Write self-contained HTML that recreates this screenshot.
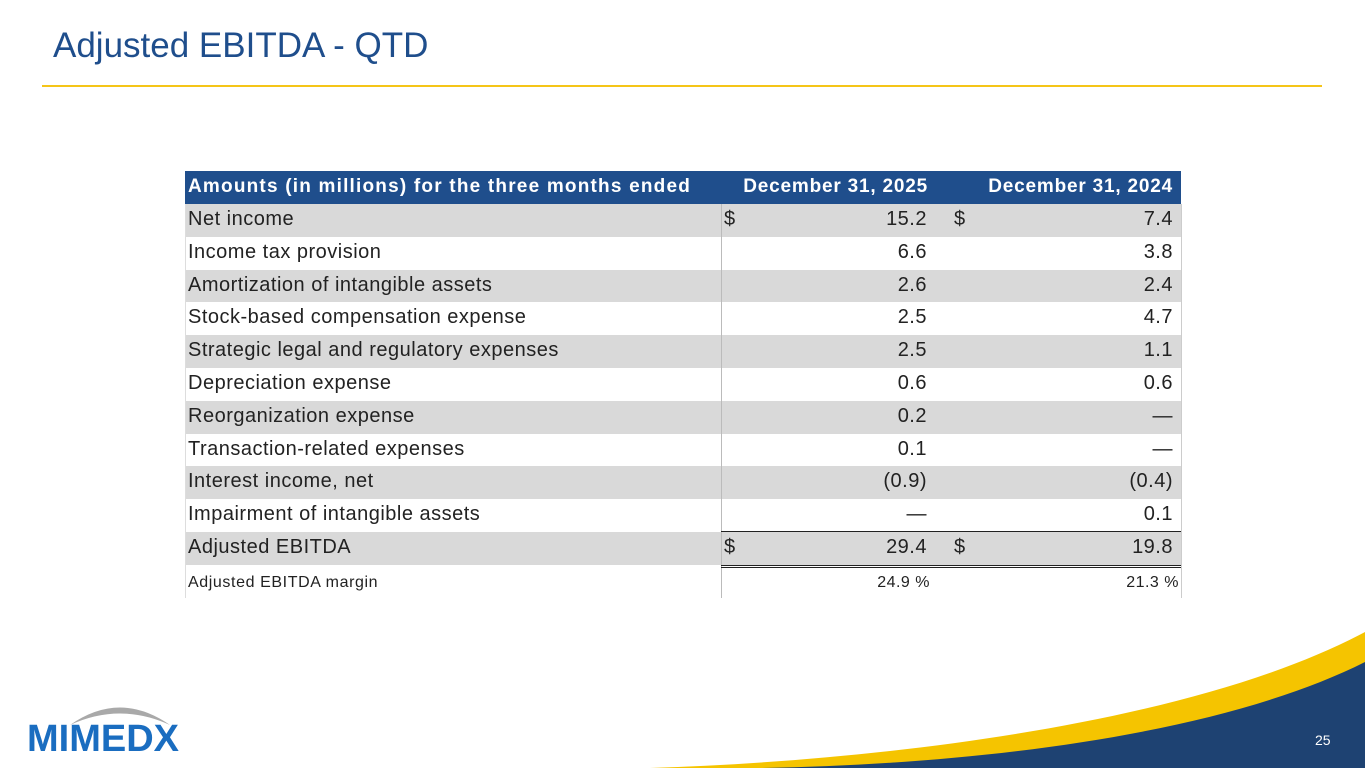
<!DOCTYPE html>
<html><head><meta charset="utf-8"><style>
body{margin:0;width:1365px;height:768px;background:#fff;position:relative;overflow:hidden;font-family:"Liberation Sans",sans-serif}
.a{position:absolute}
.t{position:absolute;white-space:nowrap;font-size:20px;letter-spacing:0.5px;color:#222}
</style></head><body>
<div class="a" style="left:53px;top:26px;font-size:35px;color:#1f4e8c">Adjusted EBITDA - QTD</div>
<div class="a" style="left:42px;top:85px;width:1280px;height:2px;background:#f5c518"></div>
<div id="tbl" class="a" style="left:0;top:0;width:1365px;height:768px"></div>
<svg class="a" style="left:0;top:0" width="1365" height="768">
<path d="M650 768 C900 760 1200 720 1365 632 L1365 768 Z" fill="#f5c400"/>
<path d="M760 768 C1000 764 1230 730 1365 662 L1365 768 Z" fill="#1e4272"/>
<path d="M70 725 Q120 690 170 725 Q120 702 70 725Z" fill="#a9a9a9"/>
</svg>
<div class="a" style="left:27px;top:718px;font-size:38px;font-weight:bold;color:#1a6dc0;letter-spacing:0px">MIMEDX</div>
<div class="a" style="left:1315px;top:732px;font-size:14px;color:#fff">25</div>
<script>
const labels=["Net income","Income tax provision","Amortization of intangible assets","Stock-based compensation expense","Strategic legal and regulatory expenses","Depreciation expense","Reorganization expense","Transaction-related expenses","Interest income, net","Impairment of intangible assets","Adjusted EBITDA"];
const col2025=["15.2","6.6","2.6","2.5","2.5","0.6","0.2","0.1","(0.9)","—","29.4"];
const col2024=["7.4","3.8","2.4","4.7","1.1","0.6","—","—","(0.4)","0.1","19.8"];
const margin2025="24.9", margin2024="21.3";
const T=document.getElementById('tbl');
function el(css,txt){const d=document.createElement('div');d.className='t';d.style.cssText=css;if(txt!==undefined)d.textContent=txt;T.appendChild(d);return d;}
const L=185,R=1181,C1=721,C2=950,top0=171,hh=33,rh=32.8;
const hdr=el(`left:${L}px;top:${top0}px;width:${R-L}px;height:${hh}px;background:#1f4e8c`);


const h1=el(`left:188px;top:${top0+5}px;color:#fff;font-weight:bold;font-size:19px;letter-spacing:1.2px`,"Amounts (in millions) for the three months ended");


const h2=el(`right:${1365-928}px;top:${top0+5}px;color:#fff;font-weight:bold;font-size:19px;letter-spacing:0.8px`,"December 31, 2025");


const h3=el(`right:${1365-1173}px;top:${top0+5}px;color:#fff;font-weight:bold;font-size:19px;letter-spacing:0.8px`,"December 31, 2024");


labels.forEach((lab,i)=>{
 const y=top0+hh+i*rh;
 if(i%2==0){const bg=el(`left:${L}px;top:${y}px;width:${R-L}px;height:${rh}px;background:#d9d9d9`);
  
  }
 const a=el(`left:188px;top:${y+4}px`,lab);
 
 
 const b=el(`right:${1365-927}px;top:${y+4}px`,col2025[i]);
 
 
 const c=el(`right:${1365-1173}px;top:${y+4}px`,col2024[i]);
 
 
 if(i==0||i==labels.length-1){
  const d1=el(`left:724px;top:${y+4}px`,"$");
  const d2=el(`left:954px;top:${y+4}px`,"$");
 }
});
const bodyTop=top0+hh, n=labels.length;
const my=bodyTop+n*rh;
const v1=el(`left:${C1}px;top:${bodyTop}px;width:1px;height:${n*rh+33}px;background:#bbb`);

const v2=el(`left:${R}px;top:${bodyTop}px;width:1px;height:${n*rh+33}px;background:#ccc`);

const v0=el(`left:${L}px;top:${bodyTop}px;width:1px;height:${n*rh+33}px;background:#ddd`);

const ul=el(`left:${C1}px;top:${bodyTop+(n-1)*rh-1}px;width:${R-C1}px;height:1px;background:#222`);

const dl=el(`left:${C1}px;top:${my}px;width:${R-C1}px;height:3px;border-top:1px solid #222;border-bottom:1px solid #222;box-sizing:border-box`);

const m0=el(`left:188px;top:${my+9}px;font-size:16px;letter-spacing:0.6px`,"Adjusted EBITDA margin");

const m1=el(`right:${1365-930}px;top:${my+9}px;font-size:16px`,margin2025+"  %");

const m2=el(`right:${1365-1179}px;top:${my+9}px;font-size:16px`,margin2024+"  %");

</script>
</body></html>
